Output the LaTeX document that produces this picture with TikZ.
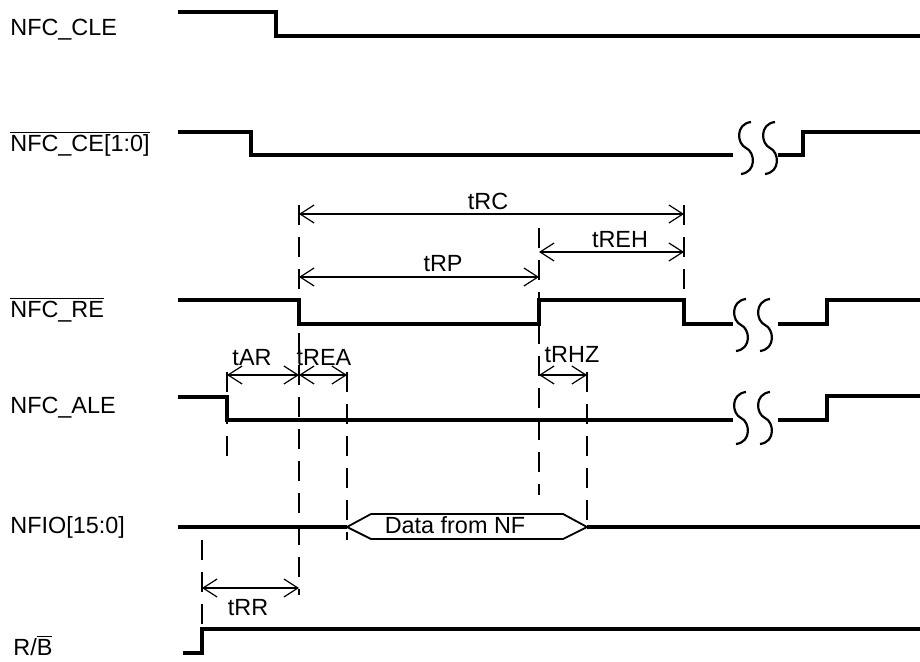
\documentclass[tikz,border=0pt]{standalone}
\usepackage{fontspec}
\setmainfont{Liberation Sans}
\usetikzlibrary{arrows.meta}

\newcommand{\ovl}[1]{$\overline{\mbox{#1}}$}

\tikzset{
  sig/.style={line width=1.6pt},
  guide/.style={line width=0.9pt, dash pattern=on 10pt off 6pt},
  dim/.style={line width=0.6pt, {Straight Barb[length=7pt,width=9pt]}-{Straight Barb[length=7pt,width=9pt]}},
  lbl/.style={inner sep=0pt, anchor=base west},
  tval/.style={inner sep=0pt, anchor=base},
  brk/.pic={
    \foreach \c in {-12,12}
      \draw[line width=1.1pt] ({\c+5},-26) .. controls ({\c-11},-24) and ({\c-9},-4) .. (\c,0)
        .. controls ({\c+9},4) and ({\c+11},24) .. ({\c-5},26);
  }
}

\begin{document}
\begin{tikzpicture}[x=0.5pt, y=-0.5pt, font=\fontsize{11.7}{14}\selectfont]
   \useasboundingbox (0,0) rectangle (920,662);

   % signal names
   \draw (10,36) node[lbl] (cle) {NFC\_CLE};
   \draw (10,152) node[lbl] (ce) {\ovl{NFC\_CE[1:0]}};
   \draw (10,318) node[lbl] (re) {\ovl{NFC\_RE}};
   \draw (10,413) node[lbl] (ale) {NFC\_ALE};
   \draw (10,533) node[lbl] (nfio) {NFIO[15:0]};
   \draw (13,655) node[lbl] (rb) {R/\ovl{B}};

   % waveforms
   \draw[sig] (178,12) -- (276,12) -- (276,36) -- (920,36);
   \draw[sig] (178,132) -- (251,132) -- (251,155) -- (733,155);
   \draw[sig] (778,155) -- (803,155) -- (803,132) -- (920,132);
   \draw[sig] (178,300) -- (299,300) -- (299,324) -- (539,324) -- (539,300)
              -- (684,300) -- (684,324) -- (733,324);
   \draw[sig] (778,324) -- (827,324) -- (827,300) -- (920,300);
   \draw[sig] (178,397) -- (227,397) -- (227,420) -- (733,420);
   \draw[sig] (778,420) -- (827,420) -- (827,396) -- (920,396);
   \draw[sig] (178,527) -- (347,527);
   \draw[sig] (587,527) -- (920,527);
   \draw[sig] (183,653) -- (202,653) -- (202,629) -- (920,629);

   % breaks
   \pic at (758,148) {brk};
   \pic at (753,325) {brk};
   \pic at (753,418) {brk};

   % data window
   \draw[line width=0.9pt] (347,527) -- (371,514) -- (563,514) -- (587,527)
        -- (563,539) -- (371,539) -- cycle;
   \draw (455,533) node[tval] (data) {Data from NF};

   % guide lines
   \draw[guide] (299,205) -- (299,595);
   \draw[guide] (539,228) -- (539,495);
   \draw[guide] (684,205) -- (684,300);
   \draw[guide] (347,372) -- (347,540);
   \draw[guide] (587,372) -- (587,527);
   \draw[guide] (227,372) -- (227,460);
   \draw[guide] (202,540) -- (202,629);

   % timing points
   \coordinate (rcA) at (299,214);  \coordinate (rcB) at (684,214);
   \coordinate (ehA) at (539,252);  \coordinate (ehB) at (684,252);
   \coordinate (rpA) at (299,277);  \coordinate (rpB) at (539,277);
   \coordinate (arA) at (227,375);  \coordinate (arB) at (299,375);
   \coordinate (eaA) at (299,375);  \coordinate (eaB) at (347,375);
   \coordinate (hzA) at (539,375);  \coordinate (hzB) at (587,375);
   \coordinate (rrA) at (202,588);  \coordinate (rrB) at (299,588);

   \path[dim] (rcA) edge (rcB);
   \path[dim] (ehA) edge (ehB);
   \path[dim] (rpA) edge (rpB);
   \path[dim] (arA) edge (arB);
   \path[dim] (eaA) edge (eaB);
   \path[dim] (hzA) edge (hzB);
   \path[dim] (rrA) edge (rrB);

   \draw (488,210) node[tval] (trc) {tRC};
   \draw (620,248) node[tval] (treh) {tREH};
   \draw (443,272) node[tval] (trp) {tRP};
   \draw (252,365) node[tval] (tar) {tAR};
   \draw (324,365) node[tval] (trea) {tREA};
   \draw (572,363) node[tval] (trhz) {tRHZ};
   \draw (248,615) node[tval] (trr) {tRR};
\end{tikzpicture}
\end{document}
